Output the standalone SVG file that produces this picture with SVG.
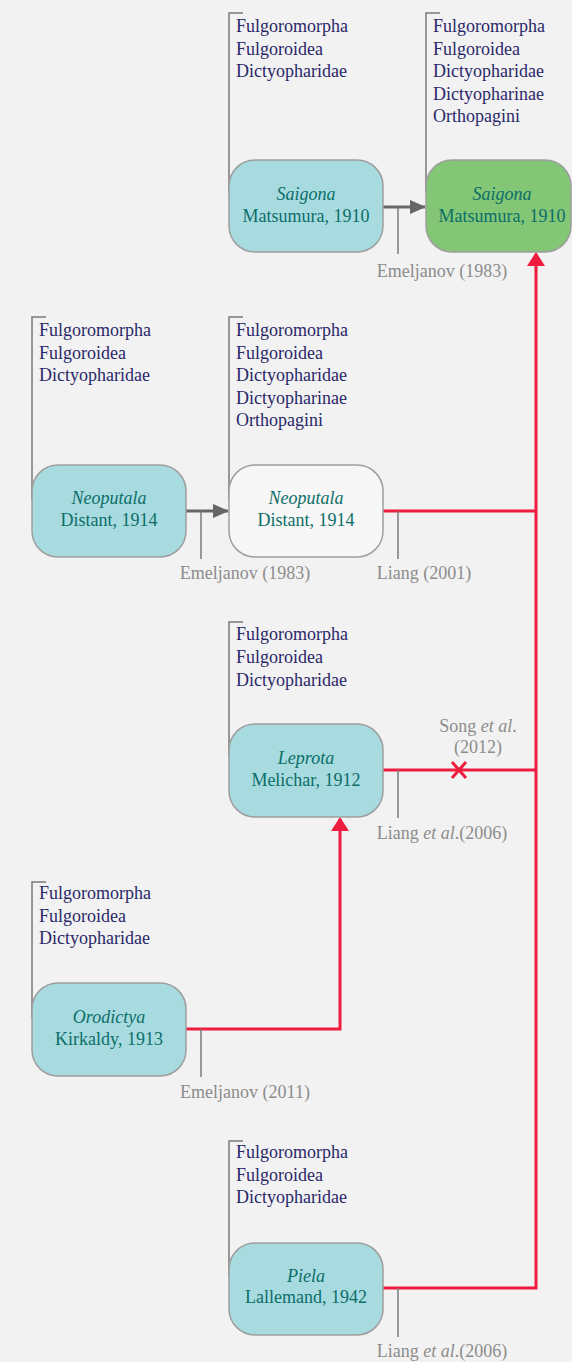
<svg xmlns="http://www.w3.org/2000/svg" width="572" height="1362" viewBox="0 0 572 1362">
<style>
  text { font-family: "Liberation Serif", "Times New Roman", serif; font-size: 18px; }
  .tax { fill: #2a2869; }
  .nm { fill: #0d6e68; text-anchor: middle; }
  .it { font-style: italic; }
  .cite { fill: #8c8c8c; text-anchor: middle; }
  .brk { fill: none; stroke: #7a7a7a; stroke-width: 1.5; }
  .tick { fill: none; stroke: #7a7a7a; stroke-width: 1.5; }
  .box { stroke: #9e9e9e; stroke-width: 1.5; }
  .cyan { fill: #a7dbe0; }
  .green { fill: #82c676; }
  .white { fill: #f7f7f7; }
  .red { fill: none; stroke: #ee1c3e; stroke-width: 3; }
  .grayarrow { fill: none; stroke: #666666; stroke-width: 3; }
</style>
<defs>
  <marker id="redHead" viewBox="0 0 14 18" refX="12" refY="9" markerWidth="14" markerHeight="18" markerUnits="userSpaceOnUse" orient="auto">
    <path d="M0,0 L14,9 L0,18 z" fill="#ee1c3e"/>
  </marker>
  <marker id="grayHead" viewBox="0 0 16 14" refX="15" refY="7" markerWidth="16" markerHeight="14" markerUnits="userSpaceOnUse" orient="auto">
    <path d="M0,0 L16,7 L0,14 z" fill="#666666"/>
  </marker>
</defs>
<rect x="0" y="0" width="572" height="1362" fill="#f2f2f2"/>

<g id="connectors">
  <path class="grayarrow" d="M383,207 H425" marker-end="url(#grayHead)"/>
  <path class="grayarrow" d="M186,511 H228" marker-end="url(#grayHead)"/>
  <path class="red" d="M383,1288 H536 V254" marker-end="url(#redHead)"/>
  <path class="red" d="M383,511 H536"/>
  <path class="red" d="M383,770 H536"/>
  <path class="red" d="M186,1029 H340 V819" marker-end="url(#redHead)"/>
  <path class="red" d="M452,762 L466,778 M466,762 L452,778"/>
  <path class="tick" d="M398,207 V254"/>
  <path class="tick" d="M201,511 V559"/>
  <path class="tick" d="M398,511 V559"/>
  <path class="tick" d="M398,770 V818"/>
  <path class="tick" d="M201,1029 V1077"/>
  <path class="tick" d="M398,1288 V1337"/>
  <text class="cite" x="442" y="277">Emeljanov (1983)</text>
  <text class="cite" x="245" y="579">Emeljanov (1983)</text>
  <text class="cite" x="424" y="579">Liang (2001)</text>
  <text class="cite" x="478" y="732">Song <tspan class="it">et al</tspan>.</text>
  <text class="cite" x="478" y="753">(2012)</text>
  <text class="cite" x="442" y="839">Liang <tspan class="it">et al</tspan>.(2006)</text>
  <text class="cite" x="245" y="1098">Emeljanov (2011)</text>
  <text class="cite" x="442" y="1357">Liang <tspan class="it">et al</tspan>.(2006)</text>
</g>

<g id="saigona-1">
  <path class="brk" d="M243,13 H229 V193"/>
  <text class="tax" x="236" y="32">Fulgoromorpha</text>
  <text class="tax" x="236" y="54.5">Fulgoroidea</text>
  <text class="tax" x="236" y="77">Dictyopharidae</text>
  <rect class="box cyan" x="229" y="160" width="154" height="92" rx="26"/>
  <text class="nm it" x="306" y="200">Saigona</text>
  <text class="nm" x="306" y="222">Matsumura, 1910</text>
</g>

<g id="saigona-2">
  <path class="brk" d="M440,13 H426 V193"/>
  <text class="tax" x="433" y="32">Fulgoromorpha</text>
  <text class="tax" x="433" y="54.5">Fulgoroidea</text>
  <text class="tax" x="433" y="77">Dictyopharidae</text>
  <text class="tax" x="433" y="99.5">Dictyopharinae</text>
  <text class="tax" x="433" y="122">Orthopagini</text>
  <rect class="box green" x="426" y="160" width="145" height="92" rx="26"/>
  <text class="nm it" x="502" y="200">Saigona</text>
  <text class="nm" x="502" y="222">Matsumura, 1910</text>
</g>

<g id="neoputala-1">
  <path class="brk" d="M46,317 H32 V500"/>
  <text class="tax" x="39" y="336">Fulgoromorpha</text>
  <text class="tax" x="39" y="358.5">Fulgoroidea</text>
  <text class="tax" x="39" y="381">Dictyopharidae</text>
  <rect class="box cyan" x="32" y="465" width="154" height="92" rx="26"/>
  <text class="nm it" x="109" y="504">Neoputala</text>
  <text class="nm" x="109" y="526">Distant, 1914</text>
</g>

<g id="neoputala-2">
  <path class="brk" d="M243,317 H229 V500"/>
  <text class="tax" x="236" y="336">Fulgoromorpha</text>
  <text class="tax" x="236" y="358.5">Fulgoroidea</text>
  <text class="tax" x="236" y="381">Dictyopharidae</text>
  <text class="tax" x="236" y="403.5">Dictyopharinae</text>
  <text class="tax" x="236" y="426">Orthopagini</text>
  <rect class="box white" x="229" y="465" width="154" height="92" rx="26"/>
  <text class="nm it" x="306" y="504">Neoputala</text>
  <text class="nm" x="306" y="526">Distant, 1914</text>
</g>

<g id="leprota">
  <path class="brk" d="M243,622 H229 V757"/>
  <text class="tax" x="236" y="640">Fulgoromorpha</text>
  <text class="tax" x="236" y="663">Fulgoroidea</text>
  <text class="tax" x="236" y="686">Dictyopharidae</text>
  <rect class="box cyan" x="229" y="724" width="154" height="93" rx="26"/>
  <text class="nm it" x="306" y="764">Leprota</text>
  <text class="nm" x="306" y="786">Melichar, 1912</text>
</g>

<g id="orodictya">
  <path class="brk" d="M46,882 H32 V1018"/>
  <text class="tax" x="39" y="899">Fulgoromorpha</text>
  <text class="tax" x="39" y="922">Fulgoroidea</text>
  <text class="tax" x="39" y="944">Dictyopharidae</text>
  <rect class="box cyan" x="32" y="983" width="154" height="93" rx="26"/>
  <text class="nm it" x="109" y="1023">Orodictya</text>
  <text class="nm" x="109" y="1045">Kirkaldy, 1913</text>
</g>

<g id="piela">
  <path class="brk" d="M243,1141 H229 V1277"/>
  <text class="tax" x="236" y="1158">Fulgoromorpha</text>
  <text class="tax" x="236" y="1181">Fulgoroidea</text>
  <text class="tax" x="236" y="1203">Dictyopharidae</text>
  <rect class="box cyan" x="229" y="1243" width="154" height="92" rx="26"/>
  <text class="nm it" x="306" y="1282">Piela</text>
  <text class="nm" x="306" y="1303">Lallemand, 1942</text>
</g>
</svg>
